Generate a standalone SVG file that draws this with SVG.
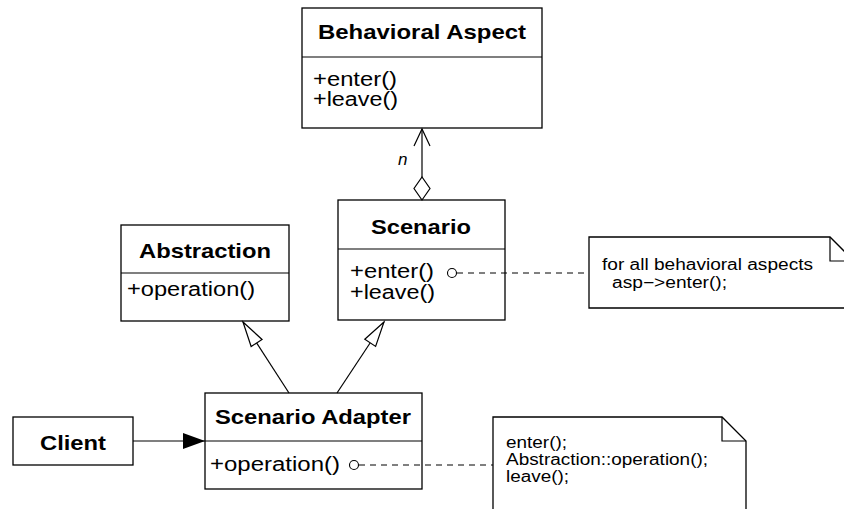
<svg xmlns="http://www.w3.org/2000/svg" width="844" height="509" viewBox="0 0 844 509">
<defs>
<style>
.box{fill:#fff;stroke:#000;stroke-width:1.3}
.ln{fill:none;stroke:#000;stroke-width:1.2}
.dash{fill:none;stroke:#000;stroke-width:1;stroke-dasharray:6 5}
.t{font-family:"Liberation Sans",Arial,Helvetica,sans-serif;font-size:21px;font-weight:bold;fill:#000}
.m{font-family:"Liberation Sans",Arial,Helvetica,sans-serif;font-size:20px;fill:#000}
.n{font-family:"Liberation Sans",Arial,Helvetica,sans-serif;font-size:16px;fill:#000}
.lbl{font-family:"Liberation Sans",Arial,Helvetica,sans-serif;font-size:17px;font-style:italic;fill:#000}
.lol{fill:#fff;stroke:#000;stroke-width:1.1}
</style>
<marker id="hollowTri" markerUnits="userSpaceOnUse" markerWidth="30" markerHeight="20" refX="0" refY="0" viewBox="-27 -10 30 20" orient="auto" overflow="visible">
<path d="M0,0 L-25,-6.5 L-25,6.5 Z" fill="#fff" stroke="#000" stroke-width="1.2"/>
</marker>
<marker id="filledTri" markerUnits="userSpaceOnUse" markerWidth="30" markerHeight="20" refX="0" refY="0" viewBox="-25 -10 30 20" orient="auto" overflow="visible">
<path d="M0,0 L-22,-8 L-22,8 Z" fill="#000"/>
</marker>
<marker id="openArrow" markerUnits="userSpaceOnUse" markerWidth="30" markerHeight="20" refX="0" refY="0" viewBox="-20 -10 30 20" orient="auto" overflow="visible">
<path d="M-17,-8 L0,0 L-17,8" fill="none" stroke="#000" stroke-width="1.2"/>
</marker>
<marker id="diamond" markerUnits="userSpaceOnUse" markerWidth="30" markerHeight="20" refX="0" refY="0" viewBox="-25 -10 30 20" orient="auto-start-reverse" overflow="visible">
<path d="M0,0 L-11.5,-8 L-23,0 L-11.5,8 Z" fill="#fff" stroke="#000" stroke-width="1.2"/>
</marker>
</defs>
<rect width="844" height="509" fill="#fff"/>

<g id="behavioral-aspect">
<rect class="box" x="302" y="8" width="240" height="120"/>
<line class="ln" x1="302" y1="57" x2="542" y2="57"/>
<text class="t" x="318" y="39" textLength="208" lengthAdjust="spacingAndGlyphs">Behavioral Aspect</text>
<text class="m" x="313" y="86" textLength="84" lengthAdjust="spacingAndGlyphs">+enter()</text>
<text class="m" x="313" y="106" textLength="85" lengthAdjust="spacingAndGlyphs">+leave()</text>
</g>

<g id="scenario">
<rect class="box" x="338" y="200" width="167" height="120"/>
<line class="ln" x1="338" y1="249" x2="505" y2="249"/>
<text class="t" x="371" y="234" textLength="100" lengthAdjust="spacingAndGlyphs">Scenario</text>
<text class="m" x="350" y="278" textLength="84" lengthAdjust="spacingAndGlyphs">+enter()</text>
<text class="m" x="350" y="299" textLength="85" lengthAdjust="spacingAndGlyphs">+leave()</text>
</g>

<g id="abstraction">
<rect class="box" x="121" y="225" width="168" height="96"/>
<line class="ln" x1="121" y1="273" x2="289" y2="273"/>
<text class="t" x="139" y="258" textLength="132" lengthAdjust="spacingAndGlyphs">Abstraction</text>
<text class="m" x="127" y="296" textLength="128" lengthAdjust="spacingAndGlyphs">+operation()</text>
</g>

<g id="scenario-adapter">
<rect class="box" x="205" y="393" width="217" height="96"/>
<line class="ln" x1="205" y1="441" x2="422" y2="441"/>
<text class="t" x="215" y="424" textLength="196" lengthAdjust="spacingAndGlyphs">Scenario Adapter</text>
<text class="m" x="210" y="471" textLength="130" lengthAdjust="spacingAndGlyphs">+operation()</text>
</g>

<g id="client">
<rect class="box" x="13" y="417" width="120" height="48"/>
<text class="t" x="40" y="450" textLength="66" lengthAdjust="spacingAndGlyphs">Client</text>
</g>

<g id="note-scenario">
<path class="box" d="M589,237 L830,237 L854,261 L854,308 L589,308 Z"/>
<path class="ln" d="M830,237 L830,261 L854,261"/>
<text class="n" x="602" y="270" textLength="211" lengthAdjust="spacingAndGlyphs">for all behavioral aspects</text>
<text class="n" x="612" y="288" textLength="115" lengthAdjust="spacingAndGlyphs">asp−&gt;enter();</text>
</g>

<g id="note-adapter">
<path class="box" d="M493,530 L493,417 L722,417 L746,441 L746,530"/>
<path class="ln" d="M722,417 L722,441 L746,441"/>
<text class="n" x="506" y="448" textLength="61" lengthAdjust="spacingAndGlyphs">enter();</text>
<text class="n" x="506" y="465" textLength="202" lengthAdjust="spacingAndGlyphs">Abstraction::operation();</text>
<text class="n" x="506" y="482" textLength="63" lengthAdjust="spacingAndGlyphs">leave();</text>
</g>

<g id="connectors">
<line class="ln" x1="422" y1="200" x2="422" y2="129" marker-start="url(#diamond)" marker-end="url(#openArrow)"/>
<text class="lbl" x="398" y="165">n</text>
<line class="ln" x1="289" y1="393" x2="243" y2="322" marker-end="url(#hollowTri)"/>
<line class="ln" x1="337" y1="393" x2="384" y2="322" marker-end="url(#hollowTri)"/>
<line class="ln" x1="133" y1="441" x2="205" y2="441" marker-end="url(#filledTri)"/>
<line class="dash" x1="457" y1="273" x2="589" y2="273"/>
<circle class="lol" cx="452" cy="273" r="4.5"/>
<line class="dash" x1="359" y1="465" x2="493" y2="465"/>
<circle class="lol" cx="354" cy="465" r="4.5"/>
</g>
</svg>
